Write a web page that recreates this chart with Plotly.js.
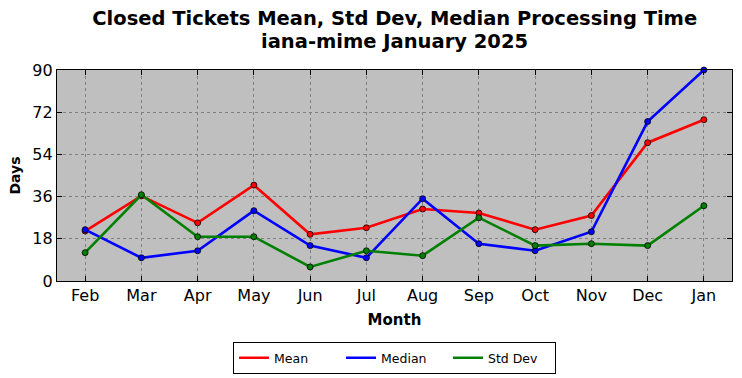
<!DOCTYPE html>
<html>
<head>
<meta charset="utf-8">
<script src="https://cdn.plot.ly/plotly-3.0.1.min.js"></script>
<style>html,body{margin:0;padding:0;background:#fff;}#chart{width:742px;height:378px;}</style>
</head>
<body>
<div id="chart"></div>
<script>
const months = ["Feb","Mar","Apr","May","Jun","Jul","Aug","Sep","Oct","Nov","Dec","Jan"];
const meanVals = [21.3, 36.3, 24.8, 40.9, 19.9, 22.7, 30.7, 29.0, 21.9, 27.9, 59.0, 68.8];
const medianVals = [21.9, 9.9, 12.9, 30.0, 15.1, 9.9, 35.1, 15.9, 12.9, 21.0, 68.0, 90.0];
const stdVals = [12.1, 36.8, 18.9, 18.9, 6.0, 12.9, 10.8, 27.0, 15.1, 15.9, 15.1, 32.1];
const yTicks = [0, 18, 36, 54, 72, 90];
const titleLine1 = "Closed Tickets Mean, Std Dev, Median Processing Time";
const titleLine2 = "iana-mime January 2025";

const series = [
  {name: "Mean", y: meanVals, color: "#ff0000"},
  {name: "Median", y: medianVals, color: "#0000ff"},
  {name: "Std Dev", y: stdVals, color: "#008000"}
];
const traces = [];
series.forEach(s => {
  traces.push({x: months, y: s.y, name: s.name, type: "scatter", mode: "lines",
    line: {color: s.color, width: 2.6}, cliponaxis: false});
  traces.push({x: months, y: s.y, name: s.name, type: "scatter", mode: "markers", showlegend: false,
    marker: {color: s.color, size: 6, line: {color: "#000", width: 0.8}}, cliponaxis: false});
});

const font = "DejaVu Sans, sans-serif";
const layout = {
  width: 742, height: 378,
  margin: {l: 57, r: 10, t: 70, b: 97, autoexpand: false},
  paper_bgcolor: "#ffffff", plot_bgcolor: "#bfbfbf",
  font: {family: font, color: "#000", size: 16},
  title: {text: "<b>" + titleLine1 + "</b>",
    font: {family: font, size: 19.5, color: "#000"}, x: 0.532, xanchor: "center",
    yref: "container", y: 0.951, yanchor: "middle"},
  annotations: [{text: "<b>" + titleLine2 + "</b>", xref: "paper", yref: "paper",
    x: 0.5, y: 1.137, xanchor: "center", yanchor: "middle", showarrow: false,
    font: {family: font, size: 19.5, color: "#000"}}],
  xaxis: {type: "category", range: [-0.5, 11.5], showline: true, linecolor: "#000", linewidth: 1.2, mirror: "ticks",
    ticks: "inside", ticklen: 5, tickcolor: "#000", showgrid: true, gridcolor: "#808080", griddash: "dot", gridwidth: 1,
    tickfont: {size: 16}, title: {text: "<b>Month</b>", font: {size: 15}, standoff: 10}, zeroline: false},
  yaxis: {range: [0, 90], tickvals: yTicks, showline: true, linecolor: "#000", linewidth: 1.2, mirror: "ticks",
    ticks: "inside", ticklen: 5, tickcolor: "#000", showgrid: true, gridcolor: "#808080", griddash: "dot", gridwidth: 1,
    tickfont: {size: 16}, title: {text: "<b>Days</b>", font: {size: 14}, standoff: 8}, zeroline: false},
  showlegend: true,
  legend: {orientation: "h", x: 0.5, xanchor: "center", y: -0.29, yanchor: "top",
    bgcolor: "#fff", bordercolor: "#000", borderwidth: 1, font: {size: 12.5}, entrywidth: 62, itemwidth: 30}
};
Plotly.newPlot("chart", traces, layout, {displayModeBar: false, staticPlot: true});
</script>
</body>
</html>
